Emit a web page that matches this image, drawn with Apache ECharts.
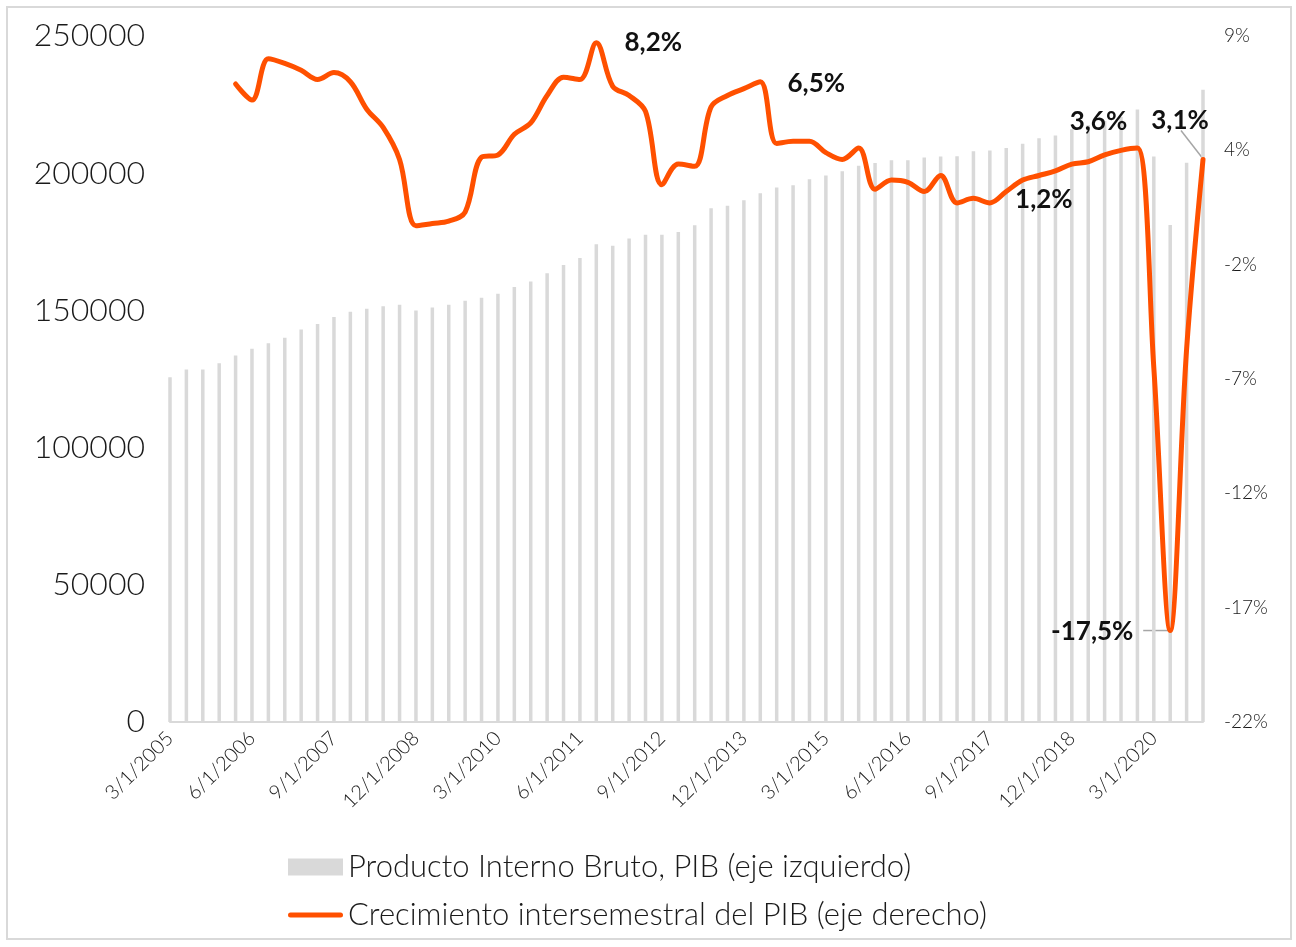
<!DOCTYPE html>
<html>
<head>
<meta charset="UTF-8">
<title>PIB y crecimiento</title>
<script src="https://cdn.jsdelivr.net/npm/echarts@6/dist/echarts.min.js"></script>
</head>
<body style="margin:0;background:#fff">
<div id="main" style="width:1296px;height:947px"></div>
<script>
// fechas trimestrales 3/1/2005 ... 12/1/2020
var anios = [2005, 2006, 2007, 2008, 2009, 2010, 2011, 2012, 2013, 2014, 2015, 2016, 2017, 2018, 2019, 2020];
var meses = [3, 6, 9, 12];
var fechas = [];
anios.forEach(function (a) {
  meses.forEach(function (m) { fechas.push(m + '/1/' + a); });
});

// PIB (eje izquierdo)
var pib = [
  125600, 128500, 128500, 130700, 133600, 136000, 138000, 140000,
  143000, 145000, 147600, 149500, 150600, 151500, 152100, 150000,
  151100, 152100, 153500, 154600, 156100, 158500, 160500, 163500,
  166500, 169100, 174100, 173600, 176200, 177600, 177600, 178600,
  181000, 187200, 188100, 190100, 192700, 194800, 195600, 197800,
  199200, 200700, 202700, 203700, 204700, 204700, 205700, 206100,
  206200, 208000, 208300, 209200, 210700, 212700, 213700, 216000,
  217500, 219000, 220500, 223200, 206100, 181100, 203800, 230400
];

// crecimiento (%) (eje derecho)
var crecimiento = [
  null, null, null, null, 6.4, 5.7, 7.5, 7.3,
  7.0, 6.6, 6.9, 6.5, 5.3, 4.5, 3.1, 0.2,
  0.3, 0.4, 0.8, 3.2, 3.3, 4.2, 4.7, 5.9,
  6.7, 6.6, 8.2, 6.3, 5.9, 5.2, 2.0, 2.9,
  2.8, 5.4, 5.9, 6.2, 6.5, 3.8, 3.9, 3.9,
  3.4, 3.1, 3.6, 1.8, 2.2, 2.1, 1.7, 2.4,
  1.2, 1.4, 1.2, 1.7, 2.2, 2.4, 2.6, 2.9,
  3.0, 3.3, 3.5, 3.6, -6.0, -17.5, -5.2, 3.1
];

var etiquetasDer = ['-22%', '-17%', '-12%', '-7%', '-2%', '4%', '9%'];
var nombrePIB = 'Producto Interno Bruto, PIB (eje izquierdo)';
var nombreCrec = 'Crecimiento intersemestral del PIB (eje derecho)';

// puntos etiquetados y desplazamiento del texto
var puntosEtiqueta = [26, 36, 59, 63, 50, 61];
var desplaz = [[57, 0], [56, 2], [-39, -26], [-23, -39], [54, -3], [-78, 1]];

var fuente = 'Lato';
var myChart = echarts.init(document.getElementById('main'));

var option = {
  animation: false,
  backgroundColor: '#fff',
  textStyle: { fontFamily: fuente },
  grid: { left: 170, right: 93, top: 36, bottom: 225 },
  legend: {
    orient: 'vertical',
    left: 283,
    top: 846,
    itemWidth: 55,
    itemHeight: 17,
    itemGap: 16,
    textStyle: { fontSize: 31, fontWeight: 300, color: '#1a1a1a', lineHeight: 32, fontFamily: fuente },
    data: [
      { name: nombrePIB, icon: 'rect' },
      { name: nombreCrec, icon: 'path://M2.5,0 L52.5,0 A2.5,2.5 0 0 1 52.5,5 L2.5,5 A2.5,2.5 0 0 1 2.5,0 Z' }
    ]
  },
  xAxis: {
    type: 'category',
    data: fechas,
    boundaryGap: false,
    axisLine: { lineStyle: { color: '#d9d9d9', width: 2 } },
    axisTick: { show: false },
    axisLabel: { interval: 4, rotate: 45, fontSize: 20, fontWeight: 300, color: '#1a1a1a', margin: 13 }
  },
  yAxis: [
    {
      type: 'value', min: 0, max: 250000, interval: 50000,
      splitLine: { show: false }, axisLine: { show: false }, axisTick: { show: false },
      axisLabel: {
        fontSize: 32, fontWeight: 300, color: '#1a1a1a', margin: 25,
        formatter: function (v) { return String(v); }
      }
    },
    {
      type: 'value', min: -21.5, max: 8.5, interval: 5,
      splitLine: { show: false }, axisLine: { show: false }, axisTick: { show: false },
      axisLabel: {
        fontSize: 19, fontWeight: 300, color: '#1a1a1a', margin: 21,
        formatter: function (v, i) { return etiquetasDer[i]; }
      }
    }
  ],
  series: [
    {
      name: nombrePIB,
      type: 'bar',
      yAxisIndex: 0,
      barWidth: 3.5,
      itemStyle: { color: '#d9d9d9' },
      data: pib
    },
    {
      name: nombreCrec,
      type: 'line',
      yAxisIndex: 1,
      smooth: 0.35,
      symbol: 'none',
      z: 5,
      lineStyle: { color: '#ff5000', width: 5, cap: 'round', join: 'round' },
      itemStyle: { color: '#ff5000' },
      data: crecimiento,
      markPoint: {
        symbol: 'circle',
        symbolSize: 1,
        itemStyle: { color: 'rgba(0,0,0,0)' },
        label: {
          show: true,
          position: 'inside',
          fontSize: 26,
          fontWeight: 'bold',
          color: '#111',
          fontFamily: fuente,
          formatter: function (p) { return p.value.toFixed(1).replace('.', ',') + '%'; }
        },
        data: puntosEtiqueta.map(function (idx, k) {
          return {
            coord: [idx, crecimiento[idx]],
            value: crecimiento[idx],
            label: { offset: desplaz[k] }
          };
        })
      }
    }
  ]
};
myChart.setOption(option);

// marco y líneas guía de las etiquetas
var p1 = myChart.convertToPixel({ seriesIndex: 1 }, [61, crecimiento[61]]);
var p2 = myChart.convertToPixel({ seriesIndex: 1 }, [63, crecimiento[63]]);
myChart.setOption({
  graphic: [
    { type: 'rect', silent: true, shape: { x: 7, y: 7, width: 1284, height: 932 },
      style: { fill: 'none', stroke: '#d9d9d9', lineWidth: 2 } },
    { type: 'line', silent: true, shape: { x1: p1[0] - 2, y1: p1[1], x2: p1[0] - 27, y2: p1[1] },
      style: { stroke: '#a6a6a6', lineWidth: 1.5 } },
    { type: 'line', silent: true, shape: { x1: p2[0] - 1, y1: p2[1] - 2, x2: p2[0] - 22, y2: p2[1] - 29 },
      style: { stroke: '#a6a6a6', lineWidth: 1.5 } }
  ]
});
</script>
</body>
</html>
